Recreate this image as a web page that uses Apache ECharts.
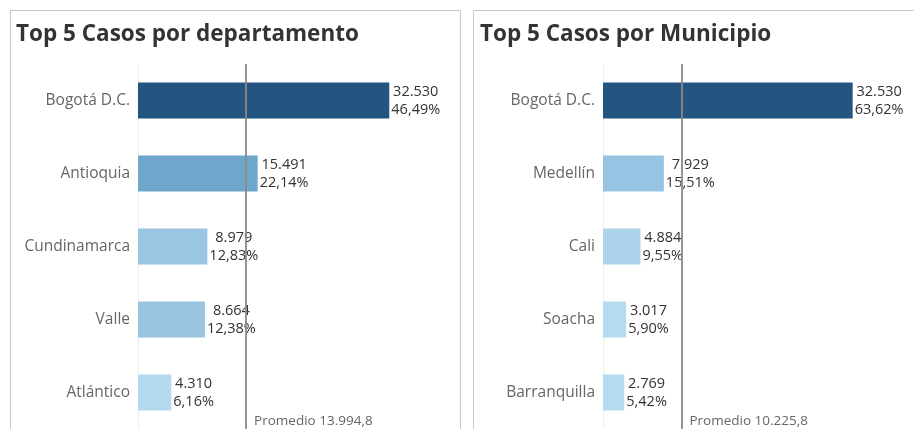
<!DOCTYPE html>
<html>
<head>
<meta charset="utf-8">
<script src="https://cdn.jsdelivr.net/npm/echarts@6/dist/echarts.min.js"></script>
<style>
html,body{margin:0;padding:0;background:#fff;}
#chart{width:914px;height:429px;}
</style>
</head>
<body>
<div id="chart"></div>
<script>
// Data
const deptCategories = ['Bogotá D.C.', 'Antioquia', 'Cundinamarca', 'Valle', 'Atlántico'];
const deptValues = [32530, 15491, 8979, 8664, 4310];
const deptColors = ['#245580', '#6fa6cc', '#9ac6e4', '#98c4e2', '#b3daee'];

const muniCategories = ['Bogotá D.C.', 'Medellín', 'Cali', 'Soacha', 'Barranquilla'];
const muniValues = [32530, 7929, 4884, 3017, 2769];
const muniColors = ['#245580', '#97c4e3', '#acd5ec', '#b4dbef', '#b4dbef'];

const titles = ['Top 5 Casos por departamento', 'Top 5 Casos por Municipio'];

function fmtInt(v) {
  return String(Math.round(v)).replace(/\B(?=(\d{3})+(?!\d))/g, '.');
}
function fmtDec(v, d) {
  const s = v.toFixed(d).split('.');
  return s[0].replace(/\B(?=(\d{3})+(?!\d))/g, '.') + ',' + s[1];
}

const FONT = '"Open Sans", "Noto Sans", sans-serif';

function makeSeries(idx, cats, vals, colors) {
  const total = vals.reduce((a, b) => a + b, 0);
  const avg = total / vals.length;
  return {
    type: 'bar',
    xAxisIndex: idx,
    yAxisIndex: idx,
    barWidth: 36,
    data: vals.map((v, i) => ({ value: v, itemStyle: { color: colors[i] } })),
    label: {
      show: true,
      position: 'right',
      distance: 2,
      formatter: (p) => '{a|' + fmtInt(p.value) + '}\n{a|' + fmtDec(p.value / total * 100, 2) + '%}',
      rich: {
        a: { fontFamily: FONT, fontSize: 14.5, color: '#333', lineHeight: 18, align: 'center' }
      }
    },
    markLine: {
      silent: true,
      symbol: 'none',
      lineStyle: { color: '#8a8a8a', width: 2, type: 'solid', opacity: 0.9 },
      label: { show: false },
      data: [{ xAxis: avg }]
    },
    markPoint: {
      silent: true,
      symbol: 'circle',
      symbolSize: 0,
      data: [{ coord: [avg, cats[cats.length - 1]] }],
      label: {
        show: true,
        position: 'right',
        offset: [3, 29],
        formatter: 'Promedio ' + fmtDec(avg, 1),
        fontFamily: FONT,
        fontSize: 13.5,
        color: '#666'
      }
    }
  };
}

const chart = echarts.init(document.getElementById('chart'), null, { renderer: 'canvas' });

const grids = [
  { left: 138, top: 64, width: 309, height: 365 },
  { left: 603, top: 64, width: 307, height: 365 }
];

const option = {
  animation: false,
  backgroundColor: '#fff',
  graphic: [
    { type: 'rect', shape: { x: 10.5, y: 10.5, width: 450, height: 440 }, style: { fill: 'none', stroke: '#c8c8c8', lineWidth: 1 }, z: -1 },
    { type: 'rect', shape: { x: 473.5, y: 10.5, width: 460, height: 440 }, style: { fill: 'none', stroke: '#c8c8c8', lineWidth: 1 }, z: -1 }
  ],
  title: [
    { text: titles[0], left: 11, top: 18, textStyle: { fontFamily: FONT, fontSize: 22.5, fontWeight: 'bold', color: '#333' } },
    { text: titles[1], left: 475, top: 18, textStyle: { fontFamily: FONT, fontSize: 22.5, fontWeight: 'bold', color: '#333' } }
  ],
  grid: grids,
  xAxis: [0, 1].map(i => ({
    type: 'value',
    gridIndex: i,
    min: 0,
    max: 40000,
    show: false,
    splitLine: { show: false }
  })),
  yAxis: [
    { cats: deptCategories, i: 0 },
    { cats: muniCategories, i: 1 }
  ].map(o => ({
    type: 'category',
    gridIndex: o.i,
    inverse: true,
    data: o.cats,
    axisTick: { show: false },
    axisLine: { show: true, lineStyle: { color: '#eeeeee', width: 1 } },
    axisLabel: { margin: 8, fontFamily: FONT, fontSize: 15.5, color: '#666' }
  })),
  series: [
    makeSeries(0, deptCategories, deptValues, deptColors),
    makeSeries(1, muniCategories, muniValues, muniColors)
  ]
};

chart.setOption(option);
</script>
</body>
</html>
